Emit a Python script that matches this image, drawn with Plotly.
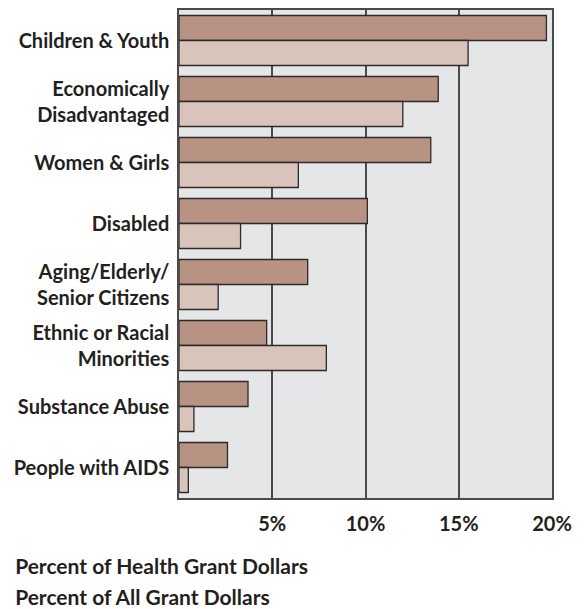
import plotly.graph_objects as go

categories = [
    "Children & Youth",
    "Economically<br>Disadvantaged",
    "Women & Girls",
    "Disabled",
    "Aging/Elderly/<br>Senior Citizens",
    "Ethnic or Racial<br>Minorities",
    "Substance Abuse",
    "People with AIDS",
]
health_pct = [19.7, 13.9, 13.5, 10.1, 6.9, 4.7, 3.7, 2.6]
all_pct = [15.5, 12.0, 6.4, 3.3, 2.1, 7.9, 0.8, 0.5]
tick_vals = [5, 10, 15, 20]
tick_text = ["5%", "10%", "15%", "20%"]

FONT = "Lato"
TXT = "#231f20"

fig = go.Figure()
fig.add_trace(go.Bar(
    y=categories, x=health_pct, orientation="h",
    name="Percent of Health Grant Dollars", legendgroup="a",
    marker=dict(color="#b89282", line=dict(color="#2e2a2a", width=1.3)),
))
fig.add_trace(go.Bar(
    y=categories, x=all_pct, orientation="h",
    name="Percent of All Grant Dollars", legendgroup="b",
    marker=dict(color="#d8c4ba", line=dict(color="#2e2a2a", width=1.3)),
))

fig.update_layout(
    width=577, height=601,
    margin=dict(l=171, r=33, t=2, b=111, autoexpand=False),
    paper_bgcolor="white",
    plot_bgcolor="#e5e6e8",
    barmode="group",
    bargap=0.18,
    bargroupgap=0,
    font=dict(family=FONT, size=20, color=TXT, weight="bold"),
    legend=dict(
        orientation="v", x=-0.5465, xref="paper", xanchor="left",
        y=-0.0984, yanchor="top",
        font=dict(family=FONT, size=21, color=TXT, weight="bold"),
        traceorder="grouped", tracegroupgap=0,
        bgcolor="rgba(0,0,0,0)",
    ),
    showlegend=True,
)
fig.update_xaxes(
    range=[0, 20], tickvals=tick_vals, ticktext=tick_text,
    showgrid=True, gridcolor="#4a4a4a", gridwidth=1.5,
    showline=True, linecolor="#4a4a4a", linewidth=1.5, mirror=True,
    ticks="", ticklabelstandoff=7, zeroline=False, automargin=False,
    tickfont=dict(family=FONT, size=20, color=TXT, weight="bold"),
)
fig.update_yaxes(
    autorange="reversed", showgrid=False,
    showline=True, linecolor="#4a4a4a", linewidth=1.5, mirror=True,
    ticks="", ticklabelstandoff=4, automargin=False,
    tickfont=dict(family=FONT, size=20, color=TXT, weight="bold"),
)

fig.write_html("out.html")
